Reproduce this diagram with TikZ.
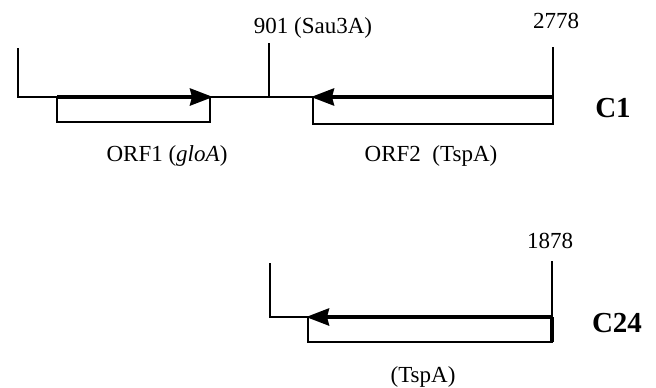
\documentclass[tikz,border=0pt]{standalone}
\usepackage{fontspec}
\setmainfont{Liberation Serif}
\usetikzlibrary{arrows.meta}
\tikzset{
  base/.style={line width=2.1pt},
  orfbox/.style={line width=2.2pt},
  orfarrow/.style={line width=3.8pt,-{Stealth[length=23pt,width=17pt,inset=2pt]}},
  lbl/.style={font=\fontsize{23}{26}\selectfont,inner sep=0pt,anchor=base},
  clone/.style={font=\fontsize{29}{32}\selectfont\bfseries,inner sep=0pt,anchor=base}
}
\begin{document}
\begin{tikzpicture}[x=1pt,y=-1pt]
\useasboundingbox (0,0) rectangle (656,388);
% ---- C1 ----
\coordinate (c1l) at (18,97);
\coordinate (c1lt) at (18,48);
\coordinate (c1r) at (553,97);
\coordinate (c1rt) at (553,47);
\coordinate (s) at (269,97);
\coordinate (st) at (269,43);
\draw[base] (c1lt) -- (c1l) -- (c1r) -- (c1rt);
\draw[base] (st) -- (s);
% ORF1 box
\coordinate (o1a) at (57,97);
\coordinate (o1b) at (210,97);
\draw[orfbox] (o1a) -- (57,122) -- (210,122) -- (o1b);
\draw[orfarrow] (o1a) -- (213,97);
% ORF2 box
\coordinate (o2a) at (313,97);
\draw[orfbox] (o2a) -- (313,124) -- (553,124) -- (c1r);
\draw[orfarrow] (c1r) -- (311,97);
\node[lbl] (n901) at (313,33) {901 (Sau3A)};
\node[lbl] (n2778) at (556,28) {2778};
\node[lbl] (orf1) at (167,161) {ORF1 (\textit{gloA})};
\node[lbl] (orf2) at (431,161) {ORF2\ \ (TspA)};
\node[clone] (C1) at (613,117) {C1};
% ---- C24 ----
\coordinate (c2l) at (270,317);
\coordinate (c2lt) at (270,263);
\coordinate (c2r) at (552,317);
\coordinate (c2rt) at (552,261);
\draw[base] (c2lt) -- (c2l) -- (c2r) -- (c2rt);
\draw[orfbox] (308,317) -- (308,342) -- (552,342) -- (c2r);
\draw[line width=3.2pt] (552,317) -- (552,342);
\draw[orfarrow] (c2r) -- (306,317);
\node[lbl] (n1878) at (550,248) {1878};
\node[lbl] (tsp) at (423,382) {(TspA)};
\node[clone] (C24) at (617,332) {C24};
\end{tikzpicture}
\end{document}
